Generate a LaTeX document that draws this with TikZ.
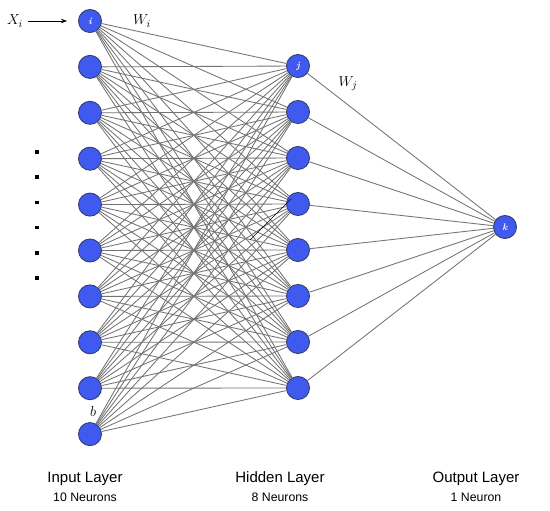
\documentclass[tikz,border=0pt]{standalone}
\usepackage{fontspec}
\setsansfont{Liberation Sans}
\usetikzlibrary{arrows.meta}
\definecolor{neuronfill}{RGB}{64,90,240}
\definecolor{neurondraw}{RGB}{50,62,115}
\definecolor{edgegray}{RGB}{115,115,115}
\tikzset{
  neuron/.style={circle,fill=neuronfill,draw=neurondraw,line width=0.9pt,minimum size=23pt,inner sep=0pt,text=white,font=\bfseries\itshape\fontsize{9.5}{9.5}\selectfont},
  edge/.style={draw=edgegray,line width=0.85pt},
  layertitle/.style={font=\sffamily\fontsize{15}{16}\selectfont,inner sep=0pt},
  layersub/.style={font=\sffamily\fontsize{12.3}{14}\selectfont,inner sep=0pt},
  dotmark/.style={fill=black,minimum size=3.4pt,inner sep=0pt,rectangle},
  wlabel/.style={font=\fontsize{15}{15}\selectfont,inner sep=0pt}
}
\begin{document}
\begin{tikzpicture}[x=1pt,y=-1pt]
\useasboundingbox (0,0) rectangle (550,511);
% input layer
\node[neuron] (in1) at (90,21) {i};
\foreach \k in {2,...,10} \node[neuron] (in\k) at (90,{21+(\k-1)*45.9}) {};
% hidden layer
\node[neuron] (hid1) at (298,66) {j};
\foreach \k in {2,...,8} \node[neuron] (hid\k) at (298,{66+(\k-1)*46}) {};
% output
\node[neuron] (out) at (505,227) {k};
% edges
\foreach \a in {1,...,10} \foreach \b in {1,...,8} \draw[edge] (in\a) -- (hid\b);
\foreach \b in {1,...,8} \draw[edge] (hid\b) -- (out);
% dark segment
\coordinate (ds1) at (250,240);
\coordinate (ds2) at (291,199);
\draw[black,line width=0.7pt] (ds1) -- (ds2);
% input arrow
\node[wlabel] (xi) at (15,21) {$X_i$};
\draw[-{Stealth[length=6pt,width=4.5pt]},line width=0.7pt] (xi.east) ++(5,0) coordinate (xs) (xs) -- (in1) [shorten >=11pt];
% weight labels
\node[wlabel] (wi) at (142,21) {$W_i$};
\node[wlabel] (wj) at (348,84) {$W_j$};
\node[wlabel] (bl) at (93,411) {$b$};
% dots
\foreach \k in {0,...,5} \node[dotmark] (dot\k) at (37,{152+\k*25.2}) {};
% layer titles
\node[layertitle] (t1) at (85,479) {Input Layer};
\node[layersub] (s1) at (85,497) {10 Neurons};
\node[layertitle] (t2) at (280,479) {Hidden Layer};
\node[layersub] (s2) at (280,497) {8 Neurons};
\node[layertitle] (t3) at (476,479) {Output Layer};
\node[layersub] (s3) at (476,497) {1 Neuron};
\end{tikzpicture}
\end{document}
